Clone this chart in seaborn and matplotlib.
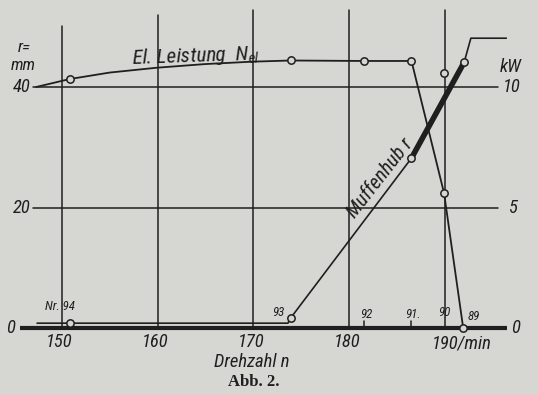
import matplotlib
matplotlib.use("Agg")
import matplotlib.pyplot as plt
from matplotlib import font_manager as fm
import seaborn as sns
import pandas as pd

# ---------------- data ----------------
# Electrical power N_el (kW) vs. speed n (1/min)
power_rpm = [147.3, 150.8, 155.0, 159.9, 164.9, 169.8, 173.9, 181.5, 186.5, 189.9, 191.9]
power_kw = [10.0, 10.33, 10.6, 10.8, 10.95, 11.05, 11.1, 11.08, 11.08, 5.6, 0.0]
power_pts_rpm = [150.8, 173.9, 181.5, 186.5, 189.9, 191.9, 189.9]
power_pts_kw = [10.33, 11.1, 11.08, 11.08, 5.6, 0.0, 10.58]

# Sleeve stroke r (mm) vs. speed n
stroke_rpm = [147.4, 173.6, 173.9, 186.5, 192.0, 192.7, 196.4]
stroke_mm = [0.8, 0.8, 1.7, 28.2, 44.1, 48.1, 48.1]
stroke_thick_rpm = [186.5, 192.0]
stroke_thick_mm = [28.2, 44.1]
stroke_pts_rpm = [150.8, 173.9, 186.5, 192.0]
stroke_pts_mm = [0.8, 1.7, 28.2, 44.1]

# test point numbers on the speed axis
test_nr = ["Nr. 94", "93", "92", "91.", "90", "89"]
test_rpm = [150.8, 173.9, 181.5, 186.5, 189.9, 191.9]

x_ticks = [150, 160, 170, 180, 190]
x_tick_labels = ["150", "160", "170", "180", "190/min"]
r_ticks = [0, 20, 40]
kw_ticks = [0, 5, 10]

# ---------------- style ----------------
sns.set_theme(style="white")
INK = "#1f1f1f"
BG = "#d6d6d3"

ttf = fm.fontManager.ttflist
names = {f.name for f in ttf}
STRETCH = "normal"
if "Liberation Sans Narrow" in names:
    FONT = ["Liberation Sans Narrow", "DejaVu Sans"]
    SF = 1.1
elif "Roboto Condensed" in names:
    FONT = ["Roboto Condensed", "DejaVu Sans"]
    SF = 1.12
elif any(f.name == "DejaVu Sans" and f.stretch == "condensed" for f in ttf):
    FONT = ["DejaVu Sans"]
    STRETCH = "condensed"
    SF = 1.0
else:
    FONT = ["DejaVu Sans"]
    SF = 0.85
plt.rcParams["font.family"] = FONT
plt.rcParams["mathtext.fontset"] = "custom"
plt.rcParams["mathtext.it"] = FONT[0] + ":italic"
plt.rcParams["mathtext.rm"] = FONT[0] + ":italic"

W, H = 538, 395
fig = plt.figure(figsize=(W / 100, H / 100), dpi=100, facecolor=BG)

# pixel mapping of the reference (150 -> 62 px, 190 -> 445 px ; r 0 -> 328 px, 40 -> 87 px)
PXR = (445 - 62) / 40.0
PXM = (328 - 87) / 40.0
def X(px):
    return 150 + (px - 62) / PXR
def Y(py):
    return (328 - py) / PXM

xlim = (145, 198)
ylim = (-4, 54)
left_px = 62 + (xlim[0] - 150) * PXR
right_px = 62 + (xlim[1] - 150) * PXR
bot_px = 328 - ylim[0] * PXM
top_px = 328 - ylim[1] * PXM
ax = fig.add_axes([left_px / W, 1 - bot_px / H, (right_px - left_px) / W, (bot_px - top_px) / H])
ax.set_facecolor("none")
ax2 = ax.twinx()

# ---------------- grid ----------------
grid_tops = [Y(26), Y(15), Y(10), Y(10), Y(10)]
for xv, top in zip(x_ticks, grid_tops):
    ax.plot([xv, xv], [0, top], color=INK, lw=1.1, zorder=1)
for rv in r_ticks[1:]:
    ax.plot([X(33), X(498)], [rv, rv], color=INK, lw=1.1, zorder=1)
ax.plot([X(20), X(507)], [0, 0], color=INK, lw=3.0, zorder=2, solid_capstyle="butt")
for xv in test_rpm[2:4]:
    ax.plot([xv, xv], [0, 1.2], color=INK, lw=1.1, zorder=2)

# ---------------- curves ----------------
df_p = pd.DataFrame({"n": power_rpm, "kw": power_kw})
sns.lineplot(data=df_p, x="n", y="kw", ax=ax2, color=INK, lw=1.3, sort=False,
             estimator=None, zorder=3)
df_s = pd.DataFrame({"n": stroke_rpm, "r": stroke_mm})
sns.lineplot(data=df_s, x="n", y="r", ax=ax, color=INK, lw=1.2, sort=False,
             estimator=None, zorder=3)
df_t = pd.DataFrame({"n": stroke_thick_rpm, "r": stroke_thick_mm})
sns.lineplot(data=df_t, x="n", y="r", ax=ax, color=INK, lw=4.0, sort=False,
             estimator=None, zorder=3, solid_capstyle="butt")

sns.scatterplot(x=stroke_pts_rpm, y=stroke_pts_mm, ax=ax, s=28, marker="o",
                facecolor=BG, edgecolor=INK, linewidth=1.1, zorder=5)
sns.scatterplot(x=power_pts_rpm, y=power_pts_kw, ax=ax2, s=28, marker="o",
                facecolor=BG, edgecolor=INK, linewidth=1.1, zorder=5)

for a in (ax, ax2):
    for s in a.spines.values():
        s.set_visible(False)
    a.set_xlim(*xlim)
    a.set_xlabel("")
    a.set_ylabel("")
    a.set_xticks([])
    a.set_yticks([])
ax.set_ylim(*ylim)
ax2.set_ylim(ylim[0] / 4, ylim[1] / 4)

# ---------------- text ----------------
tk = dict(color=INK, style="italic", family=FONT, fontstretch=STRETCH,
          fontsize=11.0 * SF, ha="center", va="center")
big = {**tk, "fontsize": 12.0 * SF}
ax.text(X(24), Y(48), "r=", **tk)
ax.text(X(23), Y(66), "mm", **tk)
ax.text(X(22), 40, "40", **big)
ax.text(X(22), 20, "20", **big)
ax.text(X(11), 0, "0", **big)
ax.text(X(511), Y(67), "kW", **big)
ax.text(X(512), 40, "10", **big)
ax.text(X(512), 20, "5", **big)
ax.text(X(516), 0, "0", **big)
for xv, lab in zip(x_ticks[:-1], x_tick_labels[:-1]):
    ax.text(xv - 0.25, Y(342), lab, **big)
ax.text(X(432), Y(343), x_tick_labels[-1], **{**big, "ha": "left"})
ax.text(X(252), Y(362), "Drehzahl n", **big)
ax.text(X(254), Y(382), "Abb. 2.", color=INK, family=["Liberation Serif", "DejaVu Serif"],
        fontweight="bold", fontsize=12, ha="center", va="center")

nr_pos = [(60, 307), (278, 313), (366, 314), (413, 314), (444, 313), (474, 316)]
for lab, (px, py) in zip(test_nr, nr_pos):
    ax.text(X(px), Y(py), lab, **{**tk, "fontsize": 8.3 * SF})

ax.text(X(196), Y(56), r"El. Leistung  $N_{el}$", **{**tk, "fontsize": 13.5 * SF}, rotation=2)
ax.text(X(380), Y(178), "Muffenhub r", **{**tk, "fontsize": 13.0 * SF}, rotation=52,
        rotation_mode="anchor")

fig.savefig("out.png", dpi=100, facecolor=BG)
